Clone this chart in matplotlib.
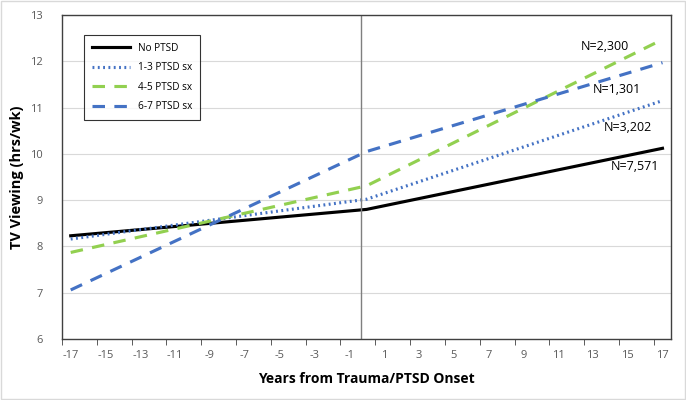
import numpy as np
import matplotlib.pyplot as plt
from matplotlib.patches import Rectangle

plt.rcParams['font.family'] = ['Open Sans', 'DejaVu Sans']
plt.rcParams['axes.unicode_minus'] = False

# years from trauma/PTSD onset (start, onset, end)
years = [-17, 0, 17]
no_ptsd = [8.23, 8.80, 10.12]
ptsd_1_3 = [8.16, 9.02, 11.15]
ptsd_4_5 = [7.87, 9.31, 12.47]
ptsd_6_7 = [7.06, 10.05, 11.97]

labels = ["No PTSD", "1-3 PTSD sx", "4-5 PTSD sx", "6-7 PTSD sx"]
n_labels = ["N=7,571", "N=3,202", "N=2,300", "N=1,301"]
n_pos = [(15.4, 9.72), (15.0, 10.58), (13.7, 12.33), (14.4, 11.38)]

blue = "#4472C4"
green = "#92D050"

fig = plt.figure(figsize=(6.86, 4.0), dpi=100)
ax = fig.add_axes([0.0904, 0.1525, 0.888, 0.81])

ax.plot(years, no_ptsd, color="black", lw=2.25, label=labels[0])
ax.plot(years, ptsd_1_3, color=blue, lw=2.25, linestyle=(0, (0.6, 1.1)), label=labels[1])
ax.plot(years, ptsd_4_5, color=green, lw=2.25, linestyle=(0, (4, 3)), label=labels[2])
ax.plot(years, ptsd_6_7, color=blue, lw=2.25, linestyle=(0, (4, 3)), label=labels[3])

ax.axvline(-0.35, color="#7f7f7f", lw=1)

for txt, (x, y) in zip(n_labels, n_pos):
    ax.text(x, y, txt, ha="center", va="center", fontsize=9, color="black")

ax.set_xlim(-17.5, 17.5)
ax.set_ylim(6, 13)
ax.set_yticks(range(6, 14))
ax.set_xticks(np.arange(-17, 18, 2))
ax.set_xticks(np.arange(-17.5, 17, 2), minor=True)
ax.tick_params(axis="x", which="major", length=0, labelsize=8, labelcolor="#595959", pad=8)
ax.tick_params(axis="x", which="minor", length=4, color="#404040", direction="out")
ax.tick_params(axis="y", length=0, labelsize=8, labelcolor="#595959", pad=14)
ax.grid(axis="y", color="#d9d9d9", lw=0.8)
ax.set_axisbelow(True)
for s in ax.spines.values():
    s.set_color("#404040")
    s.set_linewidth(1)

ax.set_xlabel("Years from Trauma/PTSD Onset", fontsize=10, fontweight="bold", labelpad=8)
ax.set_ylabel("TV Viewing (hrs/wk)", fontsize=10.5, fontweight="bold", labelpad=4)

leg = ax.legend(loc="upper left", bbox_to_anchor=(0.028, 0.955), fontsize=7.2,
                frameon=True, fancybox=False, edgecolor="black", handlelength=3.8,
                labelspacing=0.85, borderpad=0.8)
leg.get_frame().set_linewidth(0.8)

fig.patches.append(Rectangle((0.001, 0.002), 0.997, 0.996, transform=fig.transFigure,
                             fill=False, edgecolor="#d9d9d9", lw=1))

fig.savefig("out.png", dpi=100)
